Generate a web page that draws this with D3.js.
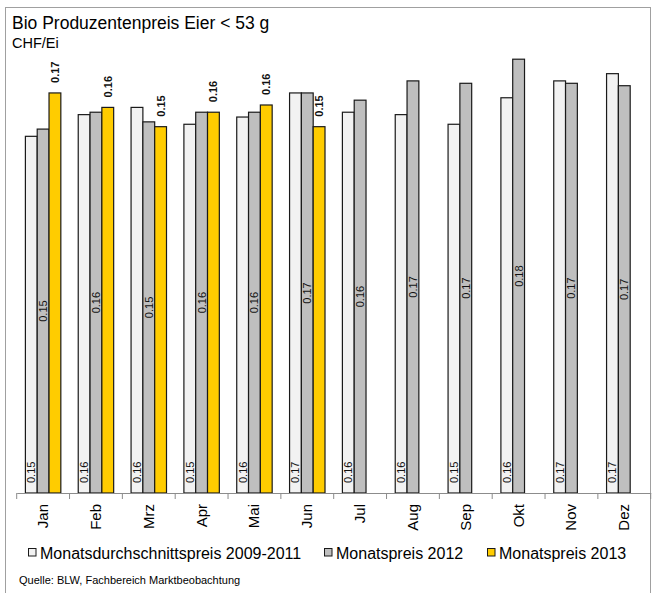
<!DOCTYPE html>
<html>
<head>
<meta charset="utf-8">
<script src="https://cdn.jsdelivr.net/npm/d3@7"></script>
<style>
  body { margin: 0; background: #fff; }
  text { font-family: "Liberation Sans", Arial, sans-serif; }
</style>
</head>
<body>
<div id="chart"></div>
<script>
// data
const months = ["Jan", "Feb", "Mrz", "Apr", "Mai", "Jun", "Jul", "Aug", "Sep", "Okt", "Nov", "Dez"];
const seriesNames = ["Monatsdurchschnittspreis 2009-2011", "Monatspreis 2012", "Monatspreis 2013"];
const avg0911 = [0.148, 0.157, 0.160, 0.153, 0.156, 0.166, 0.158, 0.157, 0.153, 0.164, 0.171, 0.174];
const price2012 = [0.151, 0.158, 0.154, 0.158, 0.158, 0.166, 0.163, 0.171, 0.170, 0.180, 0.170, 0.169];
const price2013 = [0.166, 0.160, 0.152, 0.158, 0.161, 0.152];
const colors = ["#f2f2f2", "#bfbfbf", "#ffcc00"];

const width = 652, height = 593;
const baseY = 493;

const svg = d3.select("#chart").append("svg")
    .attr("width", width)
    .attr("height", height);

// outer frame
svg.append("rect")
    .attr("x", 5.5).attr("y", 7.5)
    .attr("width", 645).attr("height", 600)
    .attr("fill", "none")
    .attr("stroke", "#a0a0a0");

svg.append("text")
    .attr("x", 12).attr("y", 29)
    .style("font-size", "17.5px")
    .text("Bio Produzentenpreis Eier < 53 g");

svg.append("text")
    .attr("x", 12).attr("y", 48)
    .style("font-size", "14.5px")
    .text("CHF/Ei");

// scales
const x = d3.scaleBand().domain(months).range([16.7, 650.7]);
const xs = d3.scaleBand().domain(seriesNames).range([8.7, x.bandwidth() - 8.7]);
const y = d3.scaleLinear().domain([0, 0.2]).range([baseY, 11]);
const fmt = d3.format(".2f");

const allSeries = [avg0911, price2012, price2013];

allSeries.forEach((vals, si) => {
    const g = svg.append("g");
    const data = vals.map((v, i) => ({ m: months[i], v: v }));

    g.selectAll("rect")
        .data(data)
        .enter().append("rect")
        .attr("x", d => x(d.m) + xs(seriesNames[si]))
        .attr("y", d => y(d.v))
        .attr("width", xs.bandwidth())
        .attr("height", d => baseY - y(d.v))
        .attr("fill", colors[si])
        .attr("stroke", "#1a1a1a")
        .attr("stroke-width", 1.2);

    const cx = d => x(d.m) + xs(seriesNames[si]) + xs.bandwidth() / 2;

    // value labels, rotated
    g.selectAll("text")
        .data(data)
        .enter().append("text")
        .attr("transform", d => {
            let ty;
            if (si === 0) ty = baseY - 10;
            else if (si === 1) ty = (baseY + y(d.v)) / 2;
            else ty = y(d.v) - 10;
            return "translate(" + (cx(d) + 4) + "," + ty + ") rotate(-90)";
        })
        .attr("text-anchor", si === 1 ? "middle" : "start")
        .style("font-size", "11px")
        .style("font-weight", si === 2 ? "bold" : "normal")
        .attr("fill", "#111")
        .text(d => fmt(d.v));
});

// x axis
const axis = svg.append("g")
    .attr("transform", "translate(0," + baseY + ")")
    .call(d3.axisBottom(x).tickSize(0).tickFormat(""));
axis.select(".domain").attr("stroke", "#8c8c8c");

const bounds = months.map(m => x(m)).concat([x.range()[1]]);
svg.append("g").selectAll("line")
    .data(bounds)
    .enter().append("line")
    .attr("x1", d => d).attr("x2", d => d)
    .attr("y1", baseY).attr("y2", baseY + 6)
    .attr("stroke", "#8c8c8c");

svg.append("g").selectAll("text")
    .data(months)
    .enter().append("text")
    .attr("transform", d => "translate(" + (x(d) + x.bandwidth() / 2 + 5) + "," + (baseY + 11) + ") rotate(-90)")
    .attr("text-anchor", "end")
    .style("font-size", "15px")
    .text(d => d);

// legend
const legendX = [28, 324, 487];
const legend = svg.append("g").selectAll("g")
    .data(seriesNames)
    .enter().append("g")
    .attr("transform", (d, i) => "translate(" + legendX[i] + ",548)");

legend.append("rect")
    .attr("x", 0.5).attr("y", 0.5)
    .attr("width", 7.5).attr("height", 7.5)
    .attr("fill", (d, i) => colors[i])
    .attr("stroke", "#1a1a1a");

legend.append("text")
    .attr("x", 12).attr("y", 10.5)
    .style("font-size", "16px")
    .text(d => d);

svg.append("text")
    .attr("x", 19).attr("y", 584)
    .style("font-size", "11px")
    .text("Quelle: BLW, Fachbereich Marktbeobachtung");
</script>
</body>
</html>
